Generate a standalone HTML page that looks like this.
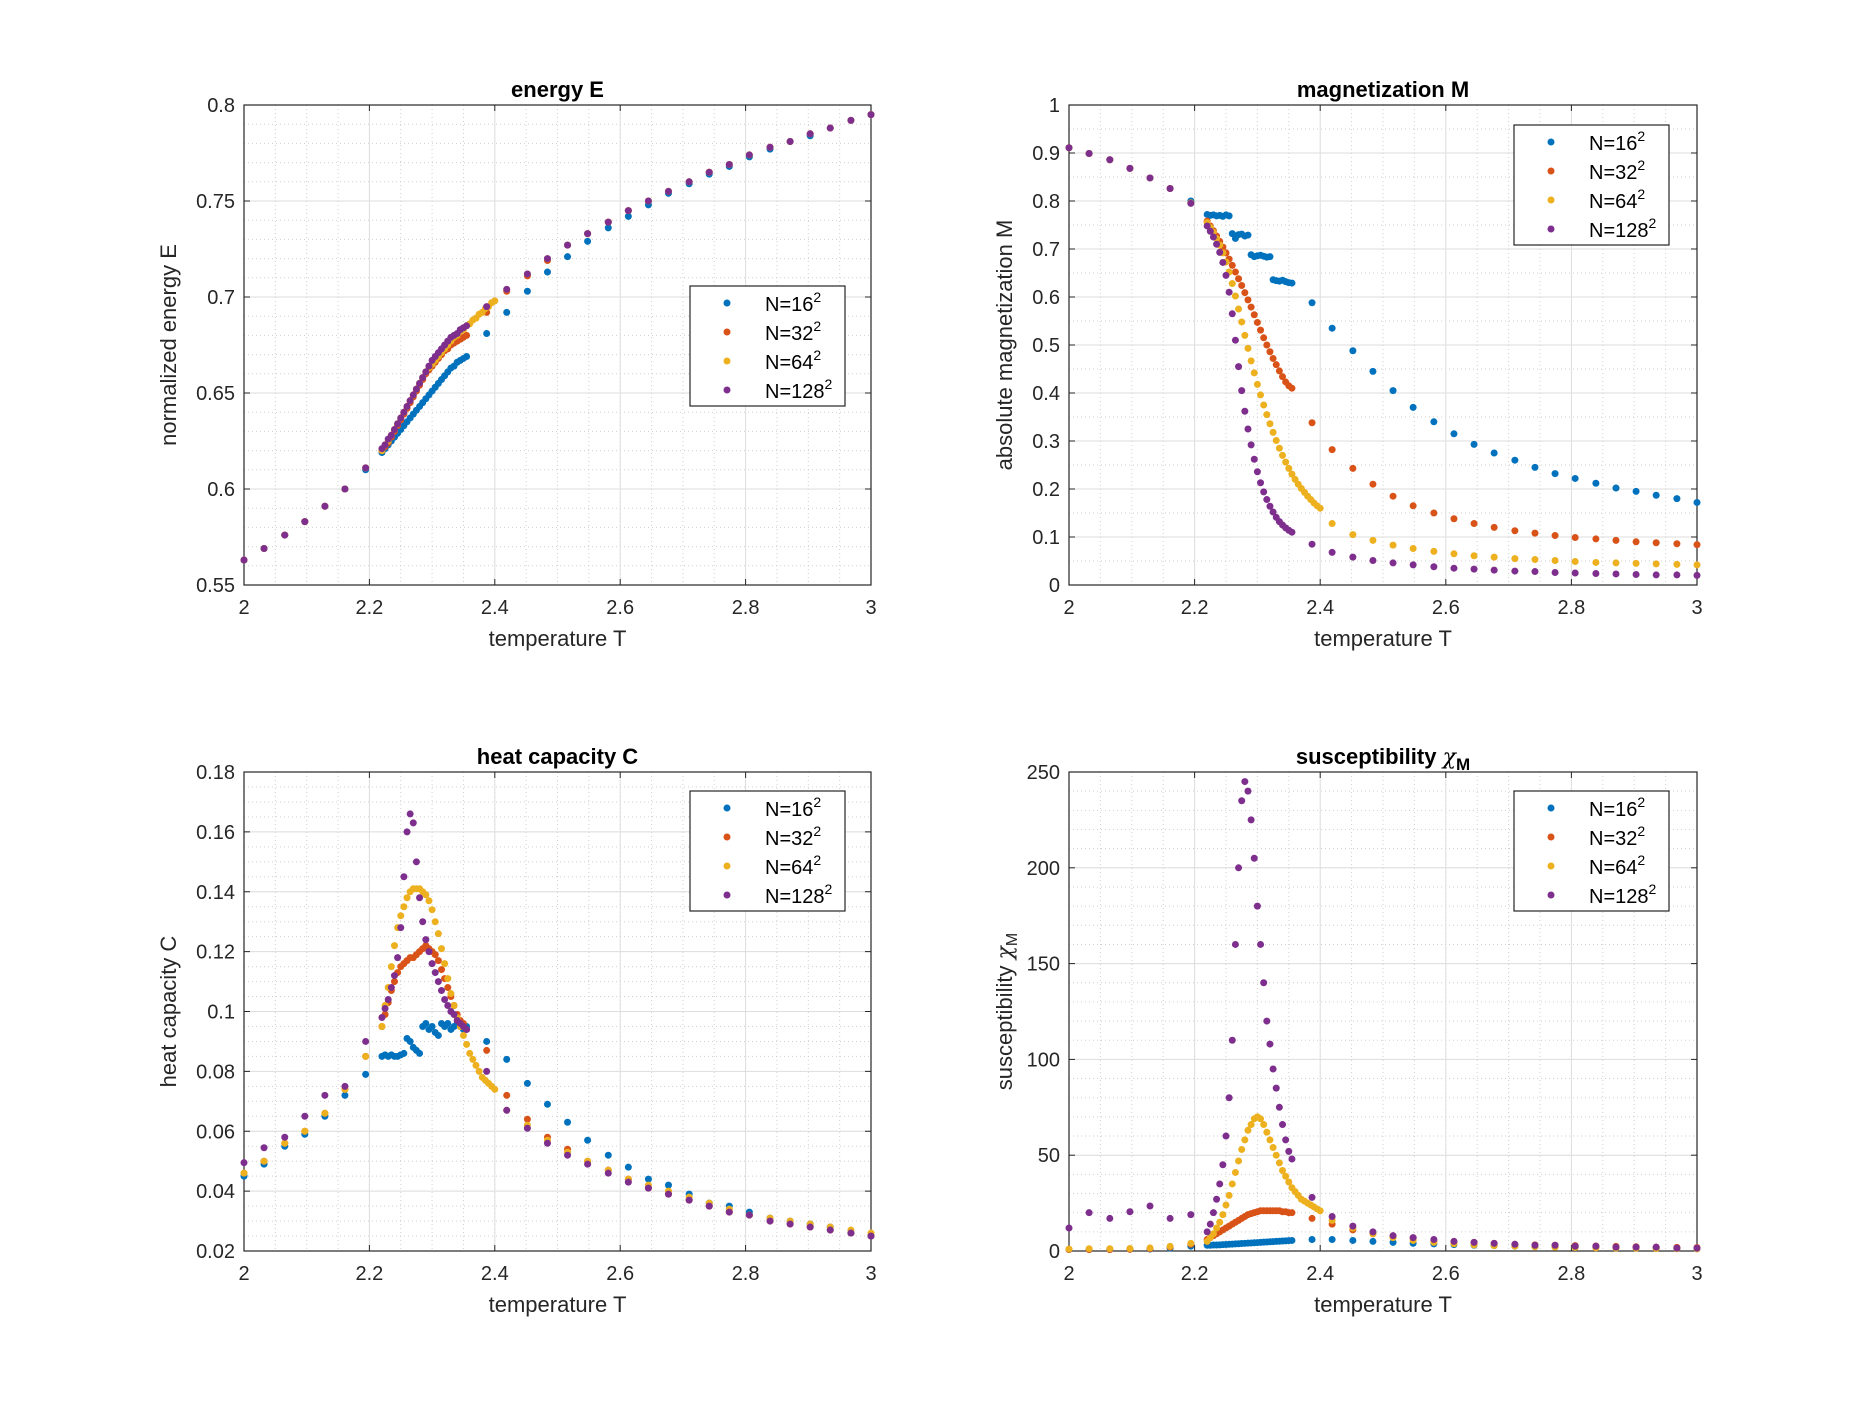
<!DOCTYPE html>
<html><head><meta charset="utf-8"><style>
html,body{margin:0;padding:0;background:#fff;}
svg{display:block;font-family:"Liberation Sans","DejaVu Sans",sans-serif;}
</style></head><body>
<svg id="fig" width="1875" height="1406" viewBox="0 0 1875 1406" xmlns="http://www.w3.org/2000/svg"></svg>
<script>
// ---- data ----
const tLow = [2.000,2.032,2.065,2.097,2.129,2.161,2.194];
const tDense = [2.220,2.225,2.230,2.235,2.240,2.245,2.250,2.255,2.260,2.265,2.270,2.275,2.280,2.285,2.290,2.295,2.300,2.305,2.310,2.315,2.320,2.325,2.330,2.335,2.340,2.345,2.350,2.355];
const tDense64 = [2.220,2.225,2.230,2.235,2.240,2.245,2.250,2.255,2.260,2.265,2.270,2.275,2.280,2.285,2.290,2.295,2.300,2.305,2.310,2.315,2.320,2.325,2.330,2.335,2.340,2.345,2.350,2.355,2.360,2.365,2.370,2.375,2.380,2.385,2.390,2.395,2.400];
const tHigh = [2.387,2.419,2.452,2.484,2.516,2.548,2.581,2.613,2.645,2.677,2.710,2.742,2.774,2.806,2.839,2.871,2.903,2.935,2.968,3.000];
const tHigh64 = [2.419,2.452,2.484,2.516,2.548,2.581,2.613,2.645,2.677,2.710,2.742,2.774,2.806,2.839,2.871,2.903,2.935,2.968,3.000];
const seriesNames = ["N=16","N=32","N=64","N=128"];

// Energy
const eLow16 = [0.563,0.569,0.576,0.583,0.591,0.600,0.610];
const eLow32 = [0.563,0.569,0.576,0.583,0.591,0.600,0.611];
const eLow64 = [0.563,0.569,0.576,0.583,0.591,0.600,0.611];
const eLow128 = [0.563,0.569,0.576,0.583,0.591,0.600,0.611];
const eDense16 = [0.619,0.621,0.623,0.625,0.627,0.629,0.631,0.633,0.635,0.637,0.639,0.641,0.643,0.645,0.647,0.649,0.651,0.653,0.655,0.657,0.659,0.661,0.663,0.664,0.666,0.667,0.668,0.669];
const eDense32 = [0.620,0.622,0.624,0.627,0.630,0.633,0.636,0.639,0.642,0.645,0.648,0.651,0.654,0.657,0.660,0.662,0.664,0.666,0.668,0.670,0.672,0.673,0.675,0.676,0.677,0.678,0.679,0.680];
const eDense64 = [0.620,0.623,0.625,0.628,0.631,0.634,0.637,0.640,0.643,0.646,0.649,0.652,0.655,0.658,0.661,0.663,0.665,0.667,0.669,0.671,0.673,0.675,0.677,0.679,0.680,0.682,0.683,0.685,0.686,0.688,0.689,0.691,0.692,0.694,0.695,0.697,0.698];
const eDense128 = [0.621,0.623,0.626,0.628,0.631,0.634,0.637,0.640,0.643,0.646,0.649,0.652,0.655,0.658,0.661,0.664,0.667,0.669,0.671,0.673,0.675,0.677,0.679,0.680,0.681,0.683,0.684,0.685];
const eHigh16 = [0.681,0.692,0.703,0.713,0.721,0.729,0.736,0.742,0.748,0.754,0.759,0.764,0.768,0.773,0.777,0.781,0.784,0.788,0.792,0.795];
const eHigh32 = [0.692,0.703,0.711,0.719,0.727,0.733,0.739,0.745,0.750,0.755,0.760,0.765,0.769,0.774,0.778,0.781,0.785,0.788,0.792,0.795];
const eHigh64 = [0.704,0.712,0.720,0.727,0.733,0.739,0.745,0.750,0.755,0.760,0.765,0.769,0.774,0.778,0.781,0.785,0.788,0.792,0.795];
const eHigh128 = [0.695,0.704,0.712,0.720,0.727,0.733,0.739,0.745,0.750,0.755,0.760,0.765,0.769,0.774,0.778,0.781,0.785,0.788,0.792,0.795];

// Magnetization
const mLow16 = [0.911,0.899,0.886,0.868,0.848,0.826,0.800];
const mLow32 = [0.911,0.899,0.886,0.868,0.848,0.826,0.796];
const mLow64 = [0.911,0.899,0.886,0.868,0.848,0.826,0.796];
const mLow128 = [0.911,0.899,0.886,0.868,0.848,0.826,0.795];
const mDense16 = [0.772,0.770,0.771,0.769,0.770,0.768,0.771,0.769,0.732,0.722,0.730,0.731,0.727,0.729,0.688,0.684,0.686,0.687,0.685,0.683,0.684,0.636,0.634,0.633,0.635,0.632,0.630,0.629];
const mDense32 = [0.758,0.748,0.738,0.727,0.716,0.704,0.692,0.679,0.666,0.652,0.638,0.624,0.609,0.594,0.579,0.563,0.547,0.531,0.515,0.500,0.486,0.472,0.459,0.446,0.434,0.423,0.415,0.410];
const mDense64 = [0.755,0.745,0.735,0.722,0.708,0.692,0.673,0.652,0.628,0.602,0.575,0.548,0.520,0.493,0.467,0.442,0.418,0.396,0.375,0.355,0.336,0.318,0.301,0.285,0.270,0.256,0.243,0.231,0.220,0.210,0.201,0.193,0.185,0.178,0.171,0.165,0.160];
const mDense128 = [0.748,0.737,0.725,0.710,0.693,0.672,0.645,0.610,0.565,0.510,0.455,0.405,0.362,0.325,0.292,0.262,0.236,0.213,0.194,0.178,0.164,0.152,0.141,0.132,0.125,0.119,0.114,0.110];
const mHigh16 = [0.588,0.535,0.488,0.445,0.405,0.370,0.340,0.315,0.293,0.275,0.260,0.245,0.232,0.222,0.212,0.202,0.195,0.187,0.180,0.172];
const mHigh32 = [0.338,0.282,0.243,0.210,0.185,0.165,0.150,0.138,0.128,0.120,0.113,0.108,0.103,0.099,0.096,0.093,0.090,0.088,0.086,0.084];
const mHigh64 = [0.128,0.105,0.093,0.083,0.076,0.070,0.065,0.061,0.058,0.055,0.053,0.051,0.049,0.047,0.046,0.045,0.044,0.043,0.042];
const mHigh128 = [0.085,0.068,0.058,0.051,0.046,0.042,0.038,0.035,0.033,0.031,0.029,0.028,0.026,0.025,0.024,0.023,0.022,0.021,0.021,0.020];

// Heat capacity
const cLow16 = [0.045,0.049,0.055,0.059,0.065,0.072,0.079];
const cLow32 = [0.046,0.050,0.056,0.060,0.066,0.074,0.085];
const cLow64 = [0.046,0.050,0.056,0.060,0.066,0.074,0.085];
const cLow128 = [0.0495,0.0545,0.058,0.065,0.072,0.075,0.090];
const cDense16 = [0.085,0.0855,0.085,0.0855,0.085,0.085,0.0855,0.086,0.091,0.090,0.088,0.087,0.086,0.095,0.096,0.094,0.095,0.093,0.092,0.096,0.095,0.096,0.094,0.095,0.096,0.095,0.094,0.095];
const cDense32 = [0.095,0.099,0.103,0.107,0.110,0.113,0.115,0.116,0.117,0.118,0.118,0.119,0.120,0.121,0.122,0.121,0.120,0.119,0.117,0.114,0.111,0.108,0.105,0.102,0.099,0.097,0.096,0.094];
const cDense64 = [0.095,0.102,0.108,0.115,0.122,0.128,0.132,0.135,0.138,0.140,0.141,0.141,0.141,0.140,0.139,0.137,0.134,0.130,0.126,0.121,0.116,0.111,0.106,0.102,0.098,0.095,0.092,0.089,0.086,0.084,0.082,0.080,0.078,0.077,0.076,0.075,0.074];
const cDense128 = [0.098,0.101,0.104,0.108,0.112,0.118,0.128,0.145,0.160,0.166,0.163,0.150,0.138,0.130,0.124,0.120,0.116,0.113,0.110,0.107,0.104,0.102,0.100,0.099,0.097,0.096,0.095,0.094];
const cHigh16 = [0.090,0.084,0.076,0.069,0.063,0.057,0.052,0.048,0.044,0.042,0.039,0.036,0.035,0.033,0.031,0.030,0.029,0.028,0.026,0.025];
const cHigh32 = [0.087,0.072,0.064,0.058,0.054,0.050,0.047,0.044,0.041,0.039,0.037,0.035,0.033,0.032,0.030,0.029,0.028,0.027,0.026,0.025];
const cHigh64 = [0.067,0.062,0.057,0.053,0.050,0.047,0.044,0.042,0.040,0.038,0.036,0.034,0.032,0.031,0.030,0.029,0.028,0.027,0.026];
const cHigh128 = [0.080,0.067,0.061,0.056,0.052,0.049,0.046,0.043,0.041,0.039,0.037,0.035,0.033,0.032,0.030,0.029,0.028,0.027,0.026,0.025];

// Susceptibility
const xLow16 = [0.8,0.8,0.8,0.9,1.0,1.5,2.5];
const xLow32 = [0.8,0.8,0.8,0.9,1.2,2.0,3.5];
const xLow64 = [1.0,1.2,1.2,1.3,1.6,2.4,4.0];
const xLow128 = [12,20,17,20.5,23.5,17,19];
const xDense16 = [3.0,3.0,3.1,3.1,3.2,3.3,3.4,3.5,3.6,3.7,3.8,3.9,4.0,4.1,4.2,4.3,4.4,4.5,4.6,4.7,4.8,4.9,5.0,5.1,5.2,5.3,5.4,5.5];
const xDense32 = [6,7,8,9,10,11,12,13,14,15,16,17,18,19,19.5,20,20.5,21,21,21,21,21,21,21,20.5,20.5,20,20];
const xDense64 = [5,7,9,12,15,19,24,29,35,41,47,53,58,63,66,69,70,69,66,62,58,54,50,46,42,39,36,33,31,29,27,26,25,24,23,22,21];
const xDense128 = [10,14,20,27,35,45,60,80,110,160,200,235,245,240,225,205,180,160,140,120,108,95,85,75,66,58,52,48];
const xHigh16 = [6,6,5.5,5,4.5,4,3.7,3.3,3,2.8,2.5,2.3,2.1,1.9,1.8,1.6,1.5,1.4,1.3,1.2];
const xHigh32 = [17,14,11,9,7.5,6.5,5.5,5,4.5,4,3.5,3.2,3,2.8,2.6,2.4,2.2,2,1.9,1.8];
const xHigh64 = [16,12,9,7,5.5,4.5,3.8,3.2,2.8,2.5,2.2,2,1.8,1.6,1.5,1.4,1.3,1.2,1.1];
const xHigh128 = [28,18,13,10,8,7,6,5,4.5,4,3.5,3,3,2.5,2.5,2,2,2,1.5,1.5];

const xTicks = [2,2.2,2.4,2.6,2.8,3];
const xTickLabels = ["2","2.2","2.4","2.6","2.8","3"];
const eTicks = [0.55,0.6,0.65,0.7,0.75,0.8];
const eTickLabels = ["0.55","0.6","0.65","0.7","0.75","0.8"];
const mTicks = [0,0.1,0.2,0.3,0.4,0.5,0.6,0.7,0.8,0.9,1];
const mTickLabels = ["0","0.1","0.2","0.3","0.4","0.5","0.6","0.7","0.8","0.9","1"];
const cTicks = [0.02,0.04,0.06,0.08,0.1,0.12,0.14,0.16,0.18];
const cTickLabels = ["0.02","0.04","0.06","0.08","0.1","0.12","0.14","0.16","0.18"];
const sTicks = [0,50,100,150,200,250];
const sTickLabels = ["0","50","100","150","200","250"];

const colors = ["#0072BD","#D95319","#EDB120","#7E2F8E"];
const NS = "http://www.w3.org/2000/svg";
const fig = document.getElementById('fig');
function mk(tag, attrs, parent){
  const e = document.createElementNS(NS, tag);
  for (const k in attrs) e.setAttribute(k, attrs[k]);
  (parent||fig).appendChild(e);
  return e;
}

function panel(opt){
  const g = mk('g', {});
  
  
  const L=opt.L, R=opt.R, T=opt.T, B=opt.B;
  const sx = v => L + (v-2)/(3-2)*(R-L);
  const sy = v => B - (v-opt.y0)/(opt.y1-opt.y0)*(B-T);
  for (let v=2; v<=3.0001; v+=0.05){
    const x=sx(v);
    const ln = mk('line',{x1:x,x2:x,y1:T,y2:B,stroke:'#d0d0d0','stroke-width':1,'stroke-dasharray':'1,3'},g);
    
    
  }
  for (let v=opt.y0; v<=opt.y1+1e-9; v+=opt.ym){
    const y=sy(v);
    const ln = mk('line',{x1:L,x2:R,y1:y,y2:y,stroke:'#d0d0d0','stroke-width':1,'stroke-dasharray':'1,3'},g);
    
    
  }
  xTicks.forEach((v,i)=>{
    const x=sx(v);
    const ln = mk('line',{x1:x,x2:x,y1:T,y2:B,stroke:'#dedede','stroke-width':1},g);
    
    
    mk('line',{x1:x,x2:x,y1:B,y2:B-6,stroke:'#262626','stroke-width':1},g);
    mk('line',{x1:x,x2:x,y1:T,y2:T+6,stroke:'#262626','stroke-width':1},g);
    const t = mk('text',{x:x,y:B+29,'text-anchor':'middle','font-size':20,fill:'#262626'},g);
    t.textContent = xTickLabels[i];
    
    
  });
  opt.yt.forEach((v,i)=>{
    const y=sy(v);
    const ln = mk('line',{x1:L,x2:R,y1:y,y2:y,stroke:'#dedede','stroke-width':1},g);
    
    
    mk('line',{x1:L,x2:L+6,y1:y,y2:y,stroke:'#262626','stroke-width':1},g);
    mk('line',{x1:R,x2:R-6,y1:y,y2:y,stroke:'#262626','stroke-width':1},g);
    const t = mk('text',{x:L-9,y:y+7,'text-anchor':'end','font-size':20,fill:'#262626'},g);
    t.textContent = opt.ytl[i];
    
    
  });
  const box = mk('rect',{x:L,y:T,width:R-L,height:B-T,fill:'none',stroke:'#262626','stroke-width':1.2},g);
  
  
  opt.series.forEach((s,si)=>{
    const sg = mk('g',{fill:colors[si]},g);
    
    
    s.forEach(part=>{
      const ts=part[0], vs=part[1];
      for (let k=0;k<ts.length;k++){
        const c = mk('circle',{cx:sx(ts[k]),cy:sy(vs[k]),r:3.5},sg);
        
        
      }
    });
  });
  const tt = mk('text',{x:(L+R)/2,y:T-8,'text-anchor':'middle','font-size':22,'font-weight':'bold',fill:'#000'},g);
  
  
  if (opt.chi){
    tt.textContent = 'susceptibility ';
    const ch = mk('tspan',{'font-style':'italic','font-weight':'normal','font-family':'"DejaVu Serif",serif'},tt); ch.textContent='χ';
    const sb = mk('tspan',{dy:6,'font-size':17},tt); sb.textContent='M';
  } else tt.textContent = opt.title;
  const xl = mk('text',{x:(L+R)/2,y:B+61,'text-anchor':'middle','font-size':22,fill:'#262626'},g);
  xl.textContent='temperature T';
  
  
  const yx = L-opt.ylOff, yy=(T+B)/2;
  const yl = mk('text',{x:yx,y:yy,'text-anchor':'middle','font-size':22,fill:'#262626',transform:`rotate(-90 ${yx} ${yy})`},g);
  
  
  if (opt.chi){
    yl.textContent='susceptibility ';
    const ch=mk('tspan',{'font-style':'italic','font-family':'"DejaVu Serif",serif'},yl); ch.textContent='χ';
    const sb=mk('tspan',{dy:5,'font-size':16},yl); sb.textContent='M';
  } else yl.textContent=opt.ylabel;
  const lg = mk('g',{},g);
  
  
  mk('rect',{x:opt.lx,y:opt.ly,width:155,height:120,fill:'#fff',stroke:'#262626','stroke-width':1.2},lg);
  seriesNames.forEach((n,i)=>{
    const e = mk('g',{},lg);
    
    
    const cy = opt.ly+17+i*29;
    mk('circle',{cx:opt.lx+37,cy:cy,r:3.5,fill:colors[i]},e);
    const t = mk('text',{x:opt.lx+75,y:cy+8,'font-size':20,fill:'#000'},e);
    t.textContent=n;
    const sp = mk('tspan',{dy:-9,'font-size':14},t); sp.textContent='2';
  });
}

const L1=244,R1=871,L2=1069,R2=1697,T1=105,B1=585,T2=772,B2=1251;
panel({name:'energy-panel',title:'energy E',ylabel:'normalized energy E',L:L1,R:R1,T:T1,B:B1,y0:0.55,y1:0.8,ym:0.01,yt:eTicks,ytl:eTickLabels,ylOff:68,lx:690,ly:286,
 series:[[[tLow,eLow16],[tDense,eDense16],[tHigh,eHigh16]],[[tLow,eLow32],[tDense,eDense32],[tHigh,eHigh32]],[[tLow,eLow64],[tDense64,eDense64],[tHigh64,eHigh64]],[[tLow,eLow128],[tDense,eDense128],[tHigh,eHigh128]]]});
panel({name:'magnetization-panel',title:'magnetization M',ylabel:'absolute magnetization M',L:L2,R:R2,T:T1,B:B1,y0:0,y1:1,ym:0.05,yt:mTicks,ytl:mTickLabels,ylOff:57,lx:1514,ly:125,
 series:[[[tLow,mLow16],[tDense,mDense16],[tHigh,mHigh16]],[[tLow,mLow32],[tDense,mDense32],[tHigh,mHigh32]],[[tLow,mLow64],[tDense64,mDense64],[tHigh64,mHigh64]],[[tLow,mLow128],[tDense,mDense128],[tHigh,mHigh128]]]});
panel({name:'heat-capacity-panel',title:'heat capacity C',ylabel:'heat capacity C',L:L1,R:R1,T:T2,B:B2,y0:0.02,y1:0.18,ym:0.005,yt:cTicks,ytl:cTickLabels,ylOff:68,lx:690,ly:791,
 series:[[[tLow,cLow16],[tDense,cDense16],[tHigh,cHigh16]],[[tLow,cLow32],[tDense,cDense32],[tHigh,cHigh32]],[[tLow,cLow64],[tDense64,cDense64],[tHigh64,cHigh64]],[[tLow,cLow128],[tDense,cDense128],[tHigh,cHigh128]]]});
panel({name:'susceptibility-panel',chi:true,L:L2,R:R2,T:T2,B:B2,y0:0,y1:250,ym:10,yt:sTicks,ytl:sTickLabels,ylOff:57,lx:1514,ly:791,
 series:[[[tLow,xLow16],[tDense,xDense16],[tHigh,xHigh16]],[[tLow,xLow32],[tDense,xDense32],[tHigh,xHigh32]],[[tLow,xLow64],[tDense64,xDense64],[tHigh64,xHigh64]],[[tLow,xLow128],[tDense,xDense128],[tHigh,xHigh128]]]});
</script>
</body></html>
